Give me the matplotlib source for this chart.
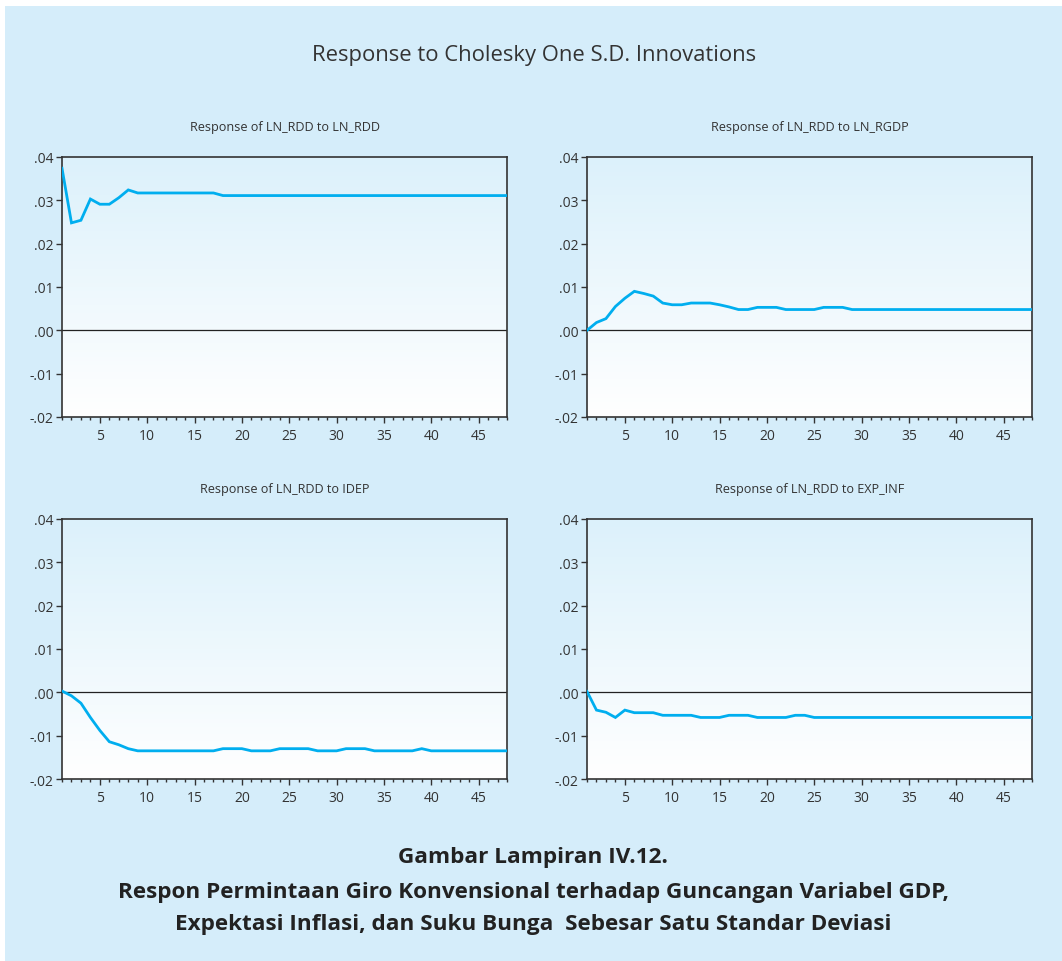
#!/usr/bin/env python3

import numpy as np
import matplotlib
matplotlib.use('Agg')
import matplotlib.pyplot as plt
from matplotlib.ticker import MultipleLocator, FuncFormatter
from matplotlib.colors import LinearSegmentedColormap

plt.rcParams['font.family'] = ['Open Sans', 'DejaVu Sans']

periods = np.arange(1, 49)

rdd_to_rdd = [0.0374, 0.0248, 0.0254, 0.0303, 0.0291, 0.0291, 0.0306, 0.0324, 0.0317, 0.0317,
              0.0317, 0.0317, 0.0317, 0.0317, 0.0317, 0.0317, 0.0317, 0.0311, 0.0311, 0.0311,
              0.0311, 0.0311, 0.0311, 0.0311, 0.0311, 0.0311, 0.0311, 0.0311, 0.0311, 0.0311,
              0.0311, 0.0311, 0.0311, 0.0311, 0.0311, 0.0311, 0.0311, 0.0311, 0.0311, 0.0311,
              0.0311, 0.0311, 0.0311, 0.0311, 0.0311, 0.0311, 0.0311, 0.0311]

rdd_to_rgdp = [0.0000, 0.0018, 0.0027, 0.0055, 0.0074, 0.0090, 0.0085, 0.0079, 0.0063, 0.0059,
               0.0059, 0.0063, 0.0063, 0.0063, 0.0059, 0.0054, 0.0048, 0.0048, 0.0053, 0.0053,
               0.0053, 0.0048, 0.0048, 0.0048, 0.0048, 0.0053, 0.0053, 0.0053, 0.0048, 0.0048,
               0.0048, 0.0048, 0.0048, 0.0048, 0.0048, 0.0048, 0.0048, 0.0048, 0.0048, 0.0048,
               0.0048, 0.0048, 0.0048, 0.0048, 0.0048, 0.0048, 0.0048, 0.0048]

rdd_to_idep = [0.0003, -0.0008, -0.0025, -0.0058, -0.0088, -0.0114, -0.0121, -0.0130, -0.0135, -0.0135,
               -0.0135, -0.0135, -0.0135, -0.0135, -0.0135, -0.0135, -0.0135, -0.0130, -0.0130, -0.0130,
               -0.0135, -0.0135, -0.0135, -0.0130, -0.0130, -0.0130, -0.0130, -0.0135, -0.0135, -0.0135,
               -0.0130, -0.0130, -0.0130, -0.0135, -0.0135, -0.0135, -0.0135, -0.0135, -0.0130, -0.0135,
               -0.0135, -0.0135, -0.0135, -0.0135, -0.0135, -0.0135, -0.0135, -0.0135]

rdd_to_expinf = [0.0002, -0.0041, -0.0046, -0.0058, -0.0041, -0.0047, -0.0047, -0.0047, -0.0053, -0.0053,
                 -0.0053, -0.0053, -0.0058, -0.0058, -0.0058, -0.0053, -0.0053, -0.0053, -0.0058, -0.0058,
                 -0.0058, -0.0058, -0.0053, -0.0053, -0.0058, -0.0058, -0.0058, -0.0058, -0.0058, -0.0058,
                 -0.0058, -0.0058, -0.0058, -0.0058, -0.0058, -0.0058, -0.0058, -0.0058, -0.0058, -0.0058,
                 -0.0058, -0.0058, -0.0058, -0.0058, -0.0058, -0.0058, -0.0058, -0.0058]

titles = ['Response of LN_RDD to LN_RDD', 'Response of LN_RDD to LN_RGDP',
          'Response of LN_RDD to IDEP', 'Response of LN_RDD to EXP_INF']
series = [rdd_to_rdd, rdd_to_rgdp, rdd_to_idep, rdd_to_expinf]

BG = '#d5edfa'
LINE = '#00aeef'
INK = '#333333'

W, H = 1062, 962
fig = plt.figure(figsize=(W / 100, H / 100), dpi=100)
fig.patch.set_facecolor('white')

# light blue box behind everything
fig.patches.append(plt.Rectangle((5 / W, 0), 1, 1 - 7 / H, transform=fig.transFigure,
                                 facecolor=BG, edgecolor='none', zorder=-10))

grad = LinearSegmentedColormap.from_list('g', ['#ffffff', '#dcf1fb'])

def tick_fmt(v, _):
	s = f'{v:.2f}'
	return s.replace('0.', '.', 1)

# (left, top) of each axes in pixels
boxes = [(62, 158), (587, 158), (62, 520), (587, 520)]
aw, ah = 445, 260

for (left, top), title, y in zip(boxes, titles, series):
	ax = fig.add_axes([left / W, 1 - (top + ah) / H, aw / W, ah / H])
	ax.imshow(np.linspace(0, 1, 256).reshape(-1, 1), cmap=grad, origin='lower',
	          extent=[0, 1, 0, 1], transform=ax.transAxes, aspect='auto', zorder=0)
	ax.plot(periods, y, color=LINE, lw=2.0, zorder=3, solid_joinstyle='miter')
	ax.axhline(0, color='#222222', lw=0.9, zorder=2)
	ax.set_xlim(1, 48)
	ax.set_ylim(-0.02, 0.04)
	ax.yaxis.set_major_locator(MultipleLocator(0.01))
	ax.yaxis.set_major_formatter(FuncFormatter(tick_fmt))
	ax.xaxis.set_major_locator(MultipleLocator(5))
	ax.xaxis.set_minor_locator(MultipleLocator(1))
	ax.tick_params(axis='both', which='major', direction='out', length=4, width=1,
	               colors=INK, labelsize=10, pad=2)
	ax.tick_params(axis='x', which='major', pad=4)
	ax.tick_params(axis='x', which='minor', direction='out', length=2.5, width=1, colors=INK)
	for sp in ax.spines.values():
		sp.set_color(INK)
		sp.set_linewidth(1.2)
	fig.text((left + aw / 2) / W, 1 - (top - 30) / H, title, ha='center', va='center',
	         fontsize=9.1, color=INK)

fig.text(534 / W, 1 - 55 / H, 'Response to Cholesky One S.D. Innovations',
         ha='center', va='center', fontsize=15.8, color=INK)

caption = ['Gambar Lampiran IV.12.',
           'Respon Permintaan Giro Konvensional terhadap Guncangan Variabel GDP,',
           'Expektasi Inflasi, dan Suku Bunga  Sebesar Satu Standar Deviasi']
for yy, line in zip([858, 893, 925], caption):
	fig.text(533 / W, 1 - yy / H, line, ha='center', va='center',
	         fontsize=16.2, fontweight='bold', color='#222222')

fig.savefig('out.png', dpi=100, facecolor=fig.get_facecolor())
